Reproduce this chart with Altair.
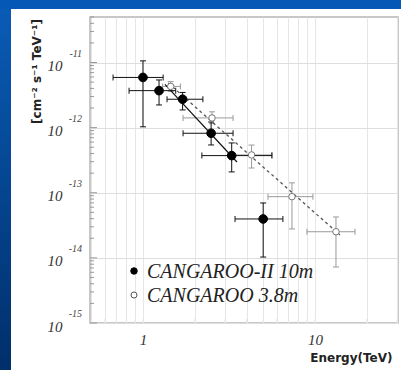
import altair as alt
import pandas as pd

# ---------------- data ----------------
# CANGAROO-II 10m (filled circles)
ii_energy = [1.0, 1.24, 1.70, 2.49, 3.28, 5.0]
ii_flux = [5.9e-12, 3.7e-12, 2.73e-12, 8.2e-13, 3.72e-13, 3.96e-14]
ii_e_lo = [0.67, 0.83, 1.38, 1.71, 2.20, 3.43]
ii_e_hi = [1.31, 1.55, 2.23, 3.34, 5.62, 6.51]
ii_f_lo = [1.03e-12, 2.23e-12, 1.87e-12, 5.42e-13, 2.09e-13, 1.03e-14]
ii_f_hi = [1.06e-11, 5.4e-12, 3.47e-12, 1.22e-12, 5.82e-13, 6.97e-14]

# CANGAROO 3.8m (open circles)
c38_energy = [1.45, 2.52, 4.28, 7.35, 13.25]
c38_flux = [4.3e-12, 1.41e-12, 3.81e-13, 8.71e-14, 2.52e-14]
c38_e_lo = [1.30, 1.71, 3.34, 5.33, 8.98]
c38_e_hi = [1.65, 3.34, 5.62, 9.73, 17.1]
c38_f_lo = [3.6e-12, 1.15e-12, 2.4e-13, 2.78e-14, 7.24e-15]
c38_f_hi = [5.1e-12, 1.75e-12, 5.4e-13, 1.42e-13, 4.25e-14]

# power-law fits (end points)
fit_ii_energy = [1.342, 3.52]
fit_ii_flux = [4.61e-12, 2.97e-13]
fit_38_energy = [1.40, 13.97]
fit_38_flux = [4.86e-12, 2.25e-14]

series_names = ["CANGAROO-II 10m", "CANGAROO 3.8m"]

# axis ticks and labels
y_decades = [1e-15, 1e-14, 1e-13, 1e-12, 1e-11]
y_exponents = ["-15", "-14", "-13", "-12", "-11"]
y_minor = [k * d for d in [1e-15, 1e-14, 1e-13, 1e-12, 1e-11] for k in range(2, 10) if k * d < 5e-11]
x_grid = [0.5, 0.6, 0.7, 0.8, 0.9, 1, 2, 3, 4, 5, 6, 7, 8, 9, 10, 20, 30]

# ---------------- chart ----------------
xs = alt.Scale(type="log", domain=[0.492, 30.4], nice=False)
ys = alt.Scale(type="log", domain=[1e-15, 5e-11], nice=False)

SERIF = "Liberation Serif"
SANS = "DejaVu Sans"

one = pd.DataFrame({"k": [0]})

left_band = alt.Chart(one).mark_rect(
    fill=alt.Gradient(
        gradient="linear",
        stops=[alt.GradientStop(color="#0a5cb8", offset=0),
               alt.GradientStop(color="#002f6a", offset=1)],
        x1=0, x2=0, y1=0, y2=1,
    )
).encode(x=alt.value(-90), x2=alt.value(-79), y=alt.value(-17), y2=alt.value(353))

top_band = alt.Chart(one).mark_rect(color="#0658b6").encode(
    x=alt.value(-90), x2=alt.value(311), y=alt.value(-17), y2=alt.value(-8)
)

y_axis = alt.Axis(
    values=y_decades, orient="left", grid=True, gridColor="#dedede", gridWidth=1,
    ticks=False, domain=False, labelExpr="'10'", labelFont=SERIF, labelFontStyle="italic",
    labelFontSize=15, labelColor="#333", labelPadding=28, labelOffset=3, labelOverlap=False,
    labelBaseline="middle",
    title="[cm⁻² s⁻¹ TeV⁻¹]", titleFont=SANS, titleFontWeight="bold", titleFontSize=12,
    titleColor="#222", titleAngle=270, titleX=-54, titleY=54, titleAlign="center",
    titleBaseline="middle",
)
x_axis = alt.Axis(
    values=x_grid, orient="bottom", grid=True, gridColor="#e6e6e6", gridWidth=1, ticks=False,
    domain=False,
    labelExpr="datum.value == 1 ? '1' : (datum.value == 10 ? '10' : '')",
    labelFont=SERIF, labelFontStyle="italic", labelFontSize=15, labelColor="#333",
    labelPadding=9, labelOverlap=False,
    title="Energy(TeV)", titleFont=SANS, titleFontWeight="bold", titleFontSize=12,
    titleColor="#222", titleX=302, titleY=34, titleAlign="right", titleBaseline="middle",
)

minor_ticks = alt.Chart(pd.DataFrame({"v": y_minor})).mark_rule(color="#999", strokeWidth=1).encode(
    y=alt.Y("v:Q", scale=ys, axis=y_axis), x=alt.value(0), x2=alt.value(4)
)
major_df = pd.DataFrame({"v": y_decades, "e": y_exponents})
major_ticks = alt.Chart(major_df).mark_rule(color="#999", strokeWidth=1).encode(
    y=alt.Y("v:Q", scale=ys, axis=None), x=alt.value(0), x2=alt.value(7)
)
exp_labels = alt.Chart(major_df).mark_text(
    font=SERIF, fontStyle="italic", fontSize=10, color="#444", align="right",
    baseline="middle", dy=-9,
).encode(y=alt.Y("v:Q", scale=ys, axis=None), x=alt.value(-8), text="e:N")

x_ticks = alt.Chart(pd.DataFrame({"g": x_grid})).mark_rule(color="#e6e6e6", strokeWidth=1).encode(
    x=alt.X("g:Q", scale=xs, axis=x_axis), y=alt.value(306), y2=alt.value(302)
)


def err_layers(E, F, elo, ehi, flo, fhi, color):
    df = pd.DataFrame(dict(E=E, F=F, elo=elo, ehi=ehi, flo=flo, fhi=fhi))
    base = alt.Chart(df)
    h = base.mark_rule(color=color, strokeWidth=1).encode(
        x=alt.X("elo:Q", scale=xs, axis=None), x2="ehi:Q",
        y=alt.Y("F:Q", scale=ys, axis=None))
    v = base.mark_rule(color=color, strokeWidth=1).encode(
        x=alt.X("E:Q", scale=xs, axis=None),
        y=alt.Y("flo:Q", scale=ys, axis=None), y2="fhi:Q")
    xc = base.transform_fold(["elo", "ehi"], as_=["k", "xv"]).mark_tick(
        orient="vertical", size=6, thickness=1, color=color, opacity=1).encode(
        x=alt.X("xv:Q", scale=xs, axis=None), y=alt.Y("F:Q", scale=ys, axis=None))
    yc = base.transform_fold(["flo", "fhi"], as_=["k", "yv"]).mark_tick(
        orient="horizontal", size=6, thickness=1, color=color, opacity=1).encode(
        x=alt.X("E:Q", scale=xs, axis=None), y=alt.Y("yv:Q", scale=ys, axis=None))
    return [h, v, xc, yc]


err38 = err_layers(c38_energy, c38_flux, c38_e_lo, c38_e_hi, c38_f_lo, c38_f_hi, "#9a9a9a")
errii = err_layers(ii_energy, ii_flux, ii_e_lo, ii_e_hi, ii_f_lo, ii_f_hi, "#111")

fit_ii = alt.Chart(pd.DataFrame({"E": fit_ii_energy, "F": fit_ii_flux})).mark_line(
    color="#111", strokeWidth=1.2).encode(
    x=alt.X("E:Q", scale=xs, axis=None), y=alt.Y("F:Q", scale=ys, axis=None))
fit_38 = alt.Chart(pd.DataFrame({"E": fit_38_energy, "F": fit_38_flux})).mark_line(
    color="#555", strokeWidth=1.3, strokeDash=[3, 3]).encode(
    x=alt.X("E:Q", scale=xs, axis=None), y=alt.Y("F:Q", scale=ys, axis=None))

pts38 = alt.Chart(pd.DataFrame({"E": c38_energy, "F": c38_flux})).mark_point(
    filled=True, opacity=1, shape="circle", size=42, fill="white", stroke="#777", strokeWidth=1
).encode(x=alt.X("E:Q", scale=xs, axis=None), y=alt.Y("F:Q", scale=ys, axis=None))
ptsii = alt.Chart(pd.DataFrame({"E": ii_energy, "F": ii_flux})).mark_point(
    filled=True, opacity=1, shape="circle", size=75, fill="black", stroke="black", strokeWidth=1
).encode(x=alt.X("E:Q", scale=xs, axis=None), y=alt.Y("F:Q", scale=ys, axis=None))

# legend (inside the plot, lower left)
leg_sym_ii = alt.Chart(one).mark_point(
    filled=True, opacity=1, shape="circle", size=42, fill="black", stroke="black", strokeWidth=1
).encode(x=alt.value(44), y=alt.value(254))
leg_sym_38 = alt.Chart(one).mark_point(
    filled=True, opacity=1, shape="circle", size=36, fill="white", stroke="#555", strokeWidth=1
).encode(x=alt.value(44), y=alt.value(278))
leg_txt_ii = alt.Chart(pd.DataFrame({"t": [series_names[0]]})).mark_text(
    font=SERIF, fontStyle="italic", fontSize=20, color="#222", align="left", baseline="alphabetic"
).encode(text="t:N", x=alt.value(57), y=alt.value(261))
leg_txt_38 = alt.Chart(pd.DataFrame({"t": [series_names[1]]})).mark_text(
    font=SERIF, fontStyle="italic", fontSize=20, color="#222", align="left", baseline="alphabetic"
).encode(text="t:N", x=alt.value(57), y=alt.value(285))

chart = alt.layer(
    left_band, top_band, x_ticks, minor_ticks, major_ticks, exp_labels,
    *err38, *errii, fit_38, fit_ii, pts38, ptsii,
    leg_sym_ii, leg_sym_38, leg_txt_ii, leg_txt_38,
).resolve_axis(x="independent", y="independent").properties(
    width=308, height=306,
    padding={"left": 90, "top": 17, "right": 3, "bottom": 47},
    autosize=alt.AutoSizeParams(type="none"),
    background="white",
).configure_view(stroke="#b5b5b5", strokeWidth=1.5)

chart.save("out.html", embed_options={"renderer": "svg", "actions": False})
